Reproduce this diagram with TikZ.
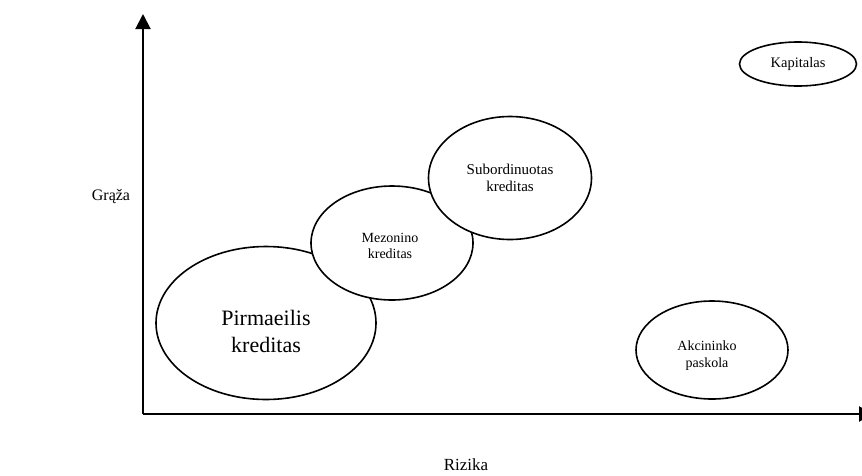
\documentclass[tikz,border=0pt]{standalone}
\usepackage{fontspec}
\setmainfont{Liberation Serif}
\usetikzlibrary{shapes.geometric,arrows.meta}
\begin{document}
\begin{tikzpicture}[x=1pt,y=-1pt,
  bubble/.style={draw,ellipse,fill=white,line width=1.6pt,inner sep=0pt},
  txt/.style={inner sep=0pt,align=center},
  axis/.style={line width=2pt,-{Triangle[width=15pt,length=15pt]}}]
\useasboundingbox (0,0) rectangle (862,475);
\coordinate (o) at (143,414);
\coordinate (ytip) at (143,14);
\coordinate (xtip) at (874,414);
\draw[axis] (o) -- (ytip);
\draw[axis] (o) -- (xtip);
\node[bubble,minimum width=220pt,minimum height=153pt] (pirm) at (266,323) {};
\node[txt,font=\fontsize{22}{27}\selectfont] (pirmt) at (266,331) {Pirmaeilis\\kreditas};
\node[bubble,minimum width=162pt,minimum height=114pt] (mez) at (392,243) {};
\node[txt,font=\fontsize{14}{16}\selectfont] (mezt) at (390,246) {Mezonino\\kreditas};
\node[bubble,minimum width=163pt,minimum height=123pt] (sub) at (510,178) {};
\node[txt,font=\fontsize{15}{17}\selectfont] (subt) at (510,178) {Subordinuotas\\kreditas};
\node[bubble,minimum width=117pt,minimum height=44pt] (kap) at (798,64) {};
\node[txt,font=\fontsize{14.5}{16}\selectfont] (kapt) at (798,64) {Kapitalas};
\node[bubble,minimum width=152pt,minimum height=98pt] (akc) at (712,350) {};
\node[txt,font=\fontsize{14}{17}\selectfont] (akct) at (707,356) {Akcininko\\paskola};
\node[txt,font=\fontsize{16}{18}\selectfont] (graza) at (111,197) {Grąža};
\node[txt,font=\fontsize{17}{20}\selectfont] (rizika) at (466,465) {Rizika};
\end{tikzpicture}
\end{document}
